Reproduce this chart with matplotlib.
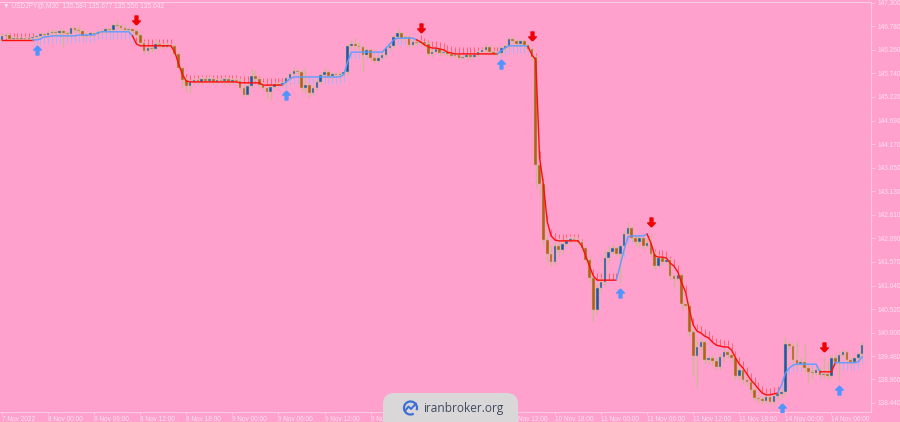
import matplotlib
matplotlib.use("Agg")
import matplotlib.pyplot as plt
from matplotlib.patches import Rectangle, FancyBboxPatch, Arc
from matplotlib.path import Path

plt.rcParams['font.family'] = ['Liberation Sans', 'DejaVu Sans']

# ---------------- data (USDJPY M30) ----------------
title = "\u25bc USDJPY@,M30  135.584 135.677 135.556 135.642"
first_open = 146.48
close = [
    146.57, 146.59, 146.50, 146.52, 146.50, 146.52, 146.50, 146.52, 146.55, 146.57,
    146.61, 146.59, 146.64, 146.66, 146.64, 146.68, 146.64, 146.61, 146.75, 146.70,
    146.68, 146.57, 146.59, 146.64, 146.61, 146.66, 146.68, 146.72, 146.70, 146.81,
    146.79, 146.75, 146.70, 146.72, 146.68, 146.59,
    146.41, 146.24, 146.30, 146.28, 146.39, 146.37, 146.33, 146.37, 146.35, 146.17,
    145.86, 145.59, 145.46, 145.55,
    145.59, 145.55, 145.62, 145.57, 145.62, 145.55, 145.59, 145.57, 145.62, 145.55,
    145.59, 145.57, 145.42, 145.26, 145.46, 145.68, 145.62, 145.48, 145.42, 145.33,
    145.44, 145.51, 145.48, 145.53,
    145.64, 145.73, 145.79, 145.77, 145.42, 145.48, 145.31, 145.42, 145.55, 145.71,
    145.77, 145.68, 145.73, 145.71, 145.73, 145.77, 146.35, 146.39, 146.35, 146.33,
    146.15, 146.26, 146.08, 146.02, 146.08, 146.15, 146.30, 146.35, 146.55, 146.64,
    146.52, 146.55, 146.37, 146.44, 146.41, 146.44, 146.39, 146.17, 146.21, 146.28,
    146.19, 146.21, 146.17, 146.13, 146.15, 146.08, 146.10, 146.15, 146.10, 146.15,
    146.21, 146.26, 146.33, 146.21, 146.17, 146.19, 146.30, 146.35, 146.50, 146.46,
    146.39, 146.46, 146.37, 146.28, 146.10, 143.71, 143.29, 142.05, 141.74, 141.56,
    141.92, 141.83, 141.96, 142.03, 142.07, 142.05, 142.01, 141.87, 141.61, 141.21,
    140.50, 140.99, 141.12, 141.65, 141.78, 141.87, 141.74, 141.92,
    142.18, 142.32, 142.09, 142.01, 142.09, 141.92, 141.98, 141.74, 141.47, 141.65,
    141.56, 141.61, 141.25, 141.19, 141.28, 140.63, 140.59, 140.01, 139.48, 139.68,
    139.79, 139.39, 139.44, 139.37, 139.24, 139.46, 139.57, 139.50, 139.44, 139.04,
    139.17, 138.95, 138.90, 138.73, 138.55, 138.53, 138.48, 138.57, 138.46, 138.59,
    138.64, 138.68, 139.75, 139.70, 139.39, 139.30, 139.35, 139.21, 139.13, 139.10,
    139.17, 139.06, 139.08, 139.04, 139.44, 139.35, 139.50, 139.57, 139.39, 139.35,
    139.44, 139.53, 139.72, 140.03,
]
high = [
    146.64, 146.66, 146.61, 146.57, 146.55, 146.55, 146.57, 146.55, 146.57, 146.59,
    146.66, 146.64, 146.70, 146.72, 146.70, 146.75, 146.72, 146.68, 146.79, 146.77,
    146.81, 146.72, 146.64, 146.68, 146.66, 146.70, 146.72, 146.77, 146.77, 146.86,
    146.95, 146.83, 146.81, 146.77, 146.75, 146.72,
    146.64, 146.46, 146.35, 146.35, 146.50, 146.44, 146.41, 146.44, 146.41, 146.39,
    146.21, 145.90, 145.66, 145.59,
    145.66, 145.64, 145.68, 145.66, 145.68, 145.66, 145.64, 145.64, 145.66, 145.66,
    145.64, 145.66, 145.64, 145.51, 145.53, 145.86, 145.82, 145.66, 145.55, 145.46,
    145.48, 145.55, 145.55, 145.57,
    145.68, 145.77, 145.88, 145.84, 145.82, 145.86, 145.53, 145.46, 145.59, 145.75,
    145.88, 145.82, 145.77, 145.77, 145.77, 145.79, 146.39, 146.48, 146.52, 146.46,
    146.37, 146.30, 146.30, 146.15, 146.13, 146.19, 146.35, 146.39, 146.59, 146.75,
    146.68, 146.59, 146.59, 146.48, 146.48, 146.48, 146.46, 146.44, 146.30, 146.33,
    146.30, 146.26, 146.24, 146.21, 146.19, 146.19, 146.15, 146.17, 146.19, 146.19,
    146.26, 146.30, 146.39, 146.37, 146.26, 146.24, 146.35, 146.39, 146.55, 146.55,
    146.50, 146.50, 146.48, 146.41, 146.33, 146.15, 143.82, 143.38, 142.14, 141.94,
    142.01, 142.09, 142.05, 142.12, 142.14, 142.14, 142.12, 142.05, 141.92, 141.70,
    141.30, 141.08, 141.21, 141.83, 141.92, 141.96, 141.92, 141.96,
    142.27, 142.45, 142.36, 142.14, 142.14, 142.12, 142.09, 142.20, 141.81, 141.72,
    141.70, 141.67, 141.65, 141.30, 141.34, 141.32, 140.72, 140.68, 140.10, 139.83,
    139.88, 139.83, 139.50, 139.50, 139.46, 139.53, 139.66, 139.61, 139.57, 139.48,
    139.24, 139.21, 139.02, 138.95, 138.79, 138.62, 138.59, 138.66, 138.62, 138.66,
    138.73, 138.75, 139.90, 139.81, 139.77, 139.81, 139.46, 139.75, 139.28, 139.19,
    139.26, 139.24, 139.46, 139.35, 139.50, 139.53, 139.57, 139.64, 139.61, 139.46,
    139.50, 139.59, 139.79, 140.23,
]
low = [
    146.44, 146.52, 146.46, 146.48, 146.48, 146.46, 146.46, 146.48, 146.48, 146.50,
    146.55, 146.55, 146.57, 146.59, 146.57, 146.59, 146.33, 146.52, 146.57, 146.64,
    146.64, 146.52, 146.55, 146.57, 146.57, 146.59, 146.61, 146.64, 146.66, 146.68,
    146.75, 146.70, 146.66, 146.68, 146.64, 146.55,
    146.37, 146.17, 146.19, 146.21, 146.26, 146.33, 146.28, 146.30, 146.30, 146.13,
    145.82, 145.42, 145.33, 145.31,
    145.51, 145.48, 145.51, 145.53, 145.53, 145.51, 145.51, 145.53, 145.51, 145.48,
    145.51, 145.51, 145.37, 145.22, 145.24, 145.42, 145.57, 145.44, 145.37, 145.20,
    145.15, 145.42, 145.44, 145.46,
    145.48, 145.59, 145.68, 145.71, 145.33, 145.31, 145.20, 145.26, 145.37, 145.51,
    145.66, 145.64, 145.64, 145.66, 145.66, 145.68, 145.71, 146.30, 146.28, 146.26,
    145.77, 146.10, 146.04, 145.97, 145.99, 146.06, 146.10, 146.26, 146.30, 146.50,
    146.48, 146.46, 146.33, 146.33, 146.35, 146.37, 146.33, 146.13, 146.10, 146.19,
    146.13, 146.15, 146.13, 146.08, 146.10, 146.04, 146.06, 146.08, 146.06, 146.08,
    146.10, 146.17, 146.19, 146.17, 146.13, 146.13, 146.15, 146.26, 146.30, 146.41,
    146.33, 146.35, 146.33, 146.24, 146.04, 143.20, 143.05, 141.94, 141.56, 141.47,
    141.50, 141.70, 141.74, 141.92, 141.98, 142.01, 141.94, 141.83, 141.52, 141.12,
    140.23, 140.39, 140.90, 141.05, 141.56, 141.74, 141.70, 141.10,
    141.78, 142.12, 142.05, 141.92, 141.90, 141.85, 141.87, 141.70, 141.39, 141.43,
    141.50, 141.54, 141.16, 141.01, 141.14, 140.50, 140.52, 139.92, 139.06, 138.77,
    139.61, 139.30, 139.30, 139.28, 139.17, 139.17, 139.35, 139.44, 139.35, 138.95,
    138.95, 138.88, 138.82, 138.66, 138.48, 138.44, 138.42, 138.44, 138.42, 138.40,
    138.51, 138.55, 138.62, 139.64, 139.33, 139.21, 139.24, 139.13, 138.88, 138.99,
    139.06, 138.99, 138.99, 138.95, 138.99, 139.26, 138.95, 139.44, 139.35, 139.28,
    139.30, 139.39, 139.46, 139.68,
]
# trailing-stop indicator line value per bar
trail = [
    146.48, 146.48, 146.48, 146.48, 146.48, 146.48, 146.48, 146.48, 146.48,
    146.48, 146.50, 146.55, 146.55, 146.57, 146.57, 146.57, 146.57, 146.57, 146.57,
    146.57, 146.59, 146.59, 146.59, 146.59, 146.59, 146.64, 146.66, 146.66, 146.66,
    146.66, 146.66, 146.66, 146.66, 146.66,
    146.57, 146.39, 146.35, 146.35, 146.35, 146.35, 146.35, 146.35, 146.35, 146.35,
    146.35, 146.21, 145.95, 145.71, 145.57, 145.55, 145.55, 145.55, 145.55, 145.55,
    145.55, 145.55, 145.55, 145.55, 145.55, 145.55, 145.55, 145.55, 145.53, 145.53,
    145.53, 145.53, 145.53, 145.53, 145.48, 145.48, 145.48, 145.48, 145.48,
    145.48, 145.55, 145.62, 145.66, 145.66, 145.66, 145.66, 145.66, 145.66, 145.66,
    145.66, 145.66, 145.66, 145.66, 145.66, 145.66, 145.71, 145.99, 146.21, 146.21,
    146.21, 146.21, 146.21, 146.21, 146.21, 146.21, 146.21, 146.30, 146.39, 146.48,
    146.52, 146.52, 146.52, 146.52, 146.52,
    146.48, 146.44, 146.37, 146.33, 146.30, 146.30, 146.28, 146.26, 146.21, 146.19,
    146.17, 146.17, 146.17, 146.17, 146.17, 146.17, 146.17, 146.17, 146.17, 146.17,
    146.17,
    146.17, 146.24, 146.30, 146.35, 146.35, 146.35, 146.35, 146.35,
    146.33, 146.15, 146.04, 143.87, 143.27, 142.45, 142.14, 142.05, 142.03, 142.03,
    142.03, 142.03, 142.03, 142.03, 141.92, 141.70, 141.47, 141.25, 141.16, 141.16,
    141.16, 141.16, 141.16,
    141.16, 141.50, 141.83, 142.12, 142.14, 142.14, 142.14, 142.14,
    142.18, 141.98, 141.70, 141.67, 141.67, 141.65, 141.54, 141.47, 141.34, 141.10,
    140.90, 140.50, 140.17, 140.03, 139.99, 139.92, 139.88, 139.79, 139.72, 139.70,
    139.68, 139.68, 139.61, 139.44, 139.30, 139.21, 139.08, 138.95, 138.86, 138.75,
    138.66, 138.62, 138.62, 138.64,
    138.66, 138.84, 139.10, 139.21, 139.28, 139.30, 139.30, 139.30, 139.30, 139.30,
    139.30,
    139.13, 139.13, 139.13, 139.13,
    139.33, 139.33, 139.33, 139.33, 139.33, 139.33, 139.35, 139.46,
]
# bar index where the trend flips, and the new direction
trend_changes = [(0, 'D'), (9, 'U'), (35, 'D'), (74, 'U'), (109, 'D'), (130, 'U'),
                 (138, 'D'), (161, 'U'), (169, 'D'), (203, 'U'), (214, 'D'), (218, 'U')]
up_arrow_bar = [9, 74, 130, 161, 203, 218]
up_arrow_price = [146.26, 145.26, 145.95, 140.88, 138.33, 138.73]
dn_arrow_bar = [35, 109, 138, 169, 214]
dn_arrow_price = [146.92, 146.75, 146.57, 142.45, 139.68]

price_ticks = [147.300, 146.780, 146.260, 145.740, 145.220, 144.690, 144.170, 143.650,
               143.130, 142.610, 142.090, 141.570, 141.040, 140.520, 140.000, 139.480,
               138.960, 138.440]
time_tick_bars = [0, 12, 24, 36, 48, 60, 72, 84, 96, 108, 120, 132, 144, 156, 168, 180,
                  192, 204, 216]
time_labels = ["7 Nov 2022", "8 Nov 00:00", "8 Nov 06:00", "8 Nov 12:00", "8 Nov 18:00",
               "9 Nov 00:00", "9 Nov 06:00", "9 Nov 12:00", "9 Nov 18:00", "10 Nov 00:00",
               "10 Nov 06:00", "10 Nov 12:00", "10 Nov 18:00", "11 Nov 00:00",
               "11 Nov 06:00", "11 Nov 12:00", "11 Nov 18:00", "14 Nov 00:00",
               "14 Nov 06:00"]
watermark = "iranbroker.org"

# ---------------- style ----------------
BG = '#ffa0cd'
FRAME = '#ffc9e4'
TXT = '#ffe3f1'
WICK = '#c6bc86'
BULL = '#1d56ad'
BEAR = '#b35f1c'
RED = '#ff0d0d'
BLUE = '#5b9dff'
RED_T = '#ff5050'
BLUE_T = '#93b8ff'

n = min(len(close), len(high), len(low), len(trail))
opens = [first_open] + close[:n - 1]

fig = plt.figure(figsize=(9.0, 4.22), dpi=100, facecolor=BG)
ax = fig.add_axes([0.0, 10 / 422, 871 / 900, 410 / 422])
ax.set_facecolor(BG)
ax.set_xlim(-0.52, 226.3)
ax.set_ylim(138.24, 147.32)

# candles
bw = 0.68
for i in range(n):
    o, c, h, l = opens[i], close[i], high[i], low[i]
    ax.vlines(i, l, h, color=WICK, lw=0.8, zorder=2)
    bottom = min(o, c)
    height = abs(c - o)
    if height < 0.012:
        ax.hlines(o, i - bw / 2, i + bw / 2, color=WICK, lw=0.9, zorder=3)
    else:
        ax.add_patch(Rectangle((i - bw / 2, bottom), bw, height,
                               facecolor=BULL if c < o and False else (BULL if c > o else BEAR),
                               edgecolor=WICK, lw=0.35, zorder=3))

# trailing line with ticks
tick_len = 0.155
for k, (start, d) in enumerate(trend_changes):
    end = trend_changes[k + 1][0] if k + 1 < len(trend_changes) else n
    idx = list(range(max(start - 1, 0), end))
    col = RED if d == 'D' else BLUE
    ax.plot(idx, [trail[j] for j in idx], color=col, lw=1.0, zorder=4,
            solid_joinstyle='round')
    for j in range(start, end):
        if d == 'D':
            ax.vlines(j, trail[j], trail[j] + tick_len, color=RED_T, lw=0.55, zorder=1)
        else:
            ax.vlines(j, trail[j] - tick_len, trail[j], color=BLUE_T, lw=0.55, zorder=1)

# signal arrows
up_path = Path([(0, 1), (0.85, 0.1), (0.32, 0.1), (0.32, -1), (-0.32, -1),
                (-0.32, 0.1), (-0.85, 0.1), (0, 1)])
dn_path = Path([(x, -y) for x, y in up_path.vertices])
ax.plot(up_arrow_bar, up_arrow_price, ls='none', marker=up_path, ms=6.5,
        color='#4f95ff', mec='#4f95ff', zorder=5)
ax.plot(dn_arrow_bar, dn_arrow_price, ls='none', marker=dn_path, ms=6.5,
        color='#f00000', mec='#f00000', zorder=5)

# axes styling
for s in ax.spines.values():
    s.set_color(FRAME)
    s.set_linewidth(0.8)
ax.spines['left'].set_visible(False)
ax.yaxis.tick_right()
ax.set_yticks(price_ticks)
ax.set_yticklabels([f"{v:.3f}" for v in price_ticks])
ax.set_xticks(time_tick_bars)
ax.set_xticklabels(time_labels)
for lbl in ax.get_xticklabels():
    lbl.set_ha('left')
ax.tick_params(axis='y', colors=FRAME, labelcolor=TXT, labelsize=4.7, length=3,
               width=0.6, pad=2)
ax.tick_params(axis='x', colors=FRAME, labelcolor=TXT, labelsize=4.7, length=2,
               width=0.6, pad=1.2)

# overlay in pixel space for title and watermark
ov = fig.add_axes([0, 0, 1, 1], zorder=10)
ov.set_xlim(0, 900)
ov.set_ylim(422, 0)
ov.axis('off')
ov.patch.set_alpha(0)
ov.text(3, 6, title, color=TXT, fontsize=4.8, va='center', ha='left')
ov.add_patch(FancyBboxPatch((383, 393), 135, 40,
                            boxstyle="round,pad=0,rounding_size=11",
                            facecolor='#d9d7d8', edgecolor='none'))
ov.add_patch(Arc((410.5, 408), 13, 13, theta1=60, theta2=380, color='#3d6fd6', lw=1.6))
ov.plot([405, 408.5, 411, 416], [411, 406.5, 409, 403.5], color='#3d6fd6', lw=1.4,
        solid_capstyle='round')
ov.text(423, 408.5, watermark, color='#3f4b5f', fontsize=8.6, va='center', ha='left',
        family=['Open Sans', 'DejaVu Sans'])

fig.savefig("out.png", dpi=100, facecolor=BG)
